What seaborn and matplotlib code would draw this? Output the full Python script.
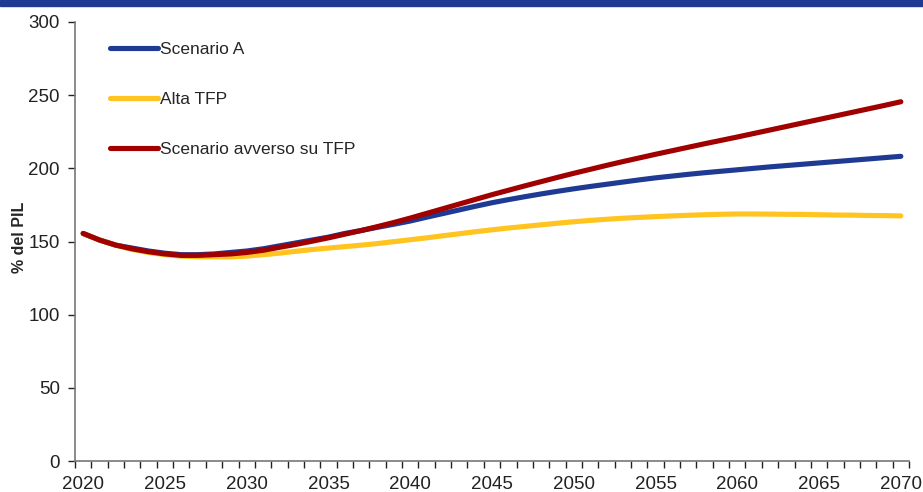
import matplotlib
matplotlib.use("Agg")
import matplotlib.pyplot as plt
import matplotlib.patches as mpatches
from matplotlib.ticker import MultipleLocator
import numpy as np
import pandas as pd
import seaborn as sns

# anni di proiezione
years = list(range(2020, 2071))

scenario_a = [155.5, 151.0, 147.5, 145.5, 143.5, 142.0, 141.0, 141.0, 141.5, 142.5,
              143.5, 145.0, 147.0, 149.0, 151.0, 153.0, 155.5, 157.5, 159.7, 161.8,
              164.0, 166.6, 169.1, 171.6, 174.1, 176.5, 178.6, 180.6, 182.5, 184.3,
              186.0, 187.6, 189.1, 190.6, 192.1, 193.5, 194.7, 195.9, 197.0, 198.0,
              199.0, 200.0, 201.0, 201.9, 202.8, 203.7, 204.6, 205.5, 206.4, 207.3,
              208.2]
alta_tfp = [155.5, 151.0, 147.5, 144.5, 142.5, 141.0, 140.0, 139.5, 139.5, 139.5,
            140.0, 141.0, 142.0, 143.3, 144.5, 145.5, 146.5, 147.5, 148.6, 149.9,
            151.2, 152.5, 153.9, 155.3, 156.7, 158.0, 159.2, 160.3, 161.4, 162.5,
            163.5, 164.4, 165.2, 165.9, 166.5, 167.0, 167.5, 167.9, 168.3, 168.6,
            168.8, 168.8, 168.7, 168.6, 168.5, 168.3, 168.1, 168.0, 167.8, 167.7,
            167.5]
avverso_tfp = [155.5, 151.0, 147.5, 145.0, 143.0, 141.5, 140.5, 140.5, 141.0, 141.5,
               142.5, 144.0, 146.0, 148.0, 150.2, 152.5, 155.0, 157.5, 160.2, 163.0,
               166.0, 169.2, 172.4, 175.6, 178.8, 182.0, 185.0, 188.0, 190.9, 193.8,
               196.6, 199.3, 202.0, 204.6, 207.1, 209.6, 212.0, 214.4, 216.8, 219.1,
               221.4, 223.8, 226.2, 228.6, 231.0, 233.4, 235.8, 238.2, 240.6, 243.0,
               245.5]

series_names = ["Scenario A", "Alta TFP", "Scenario avverso su TFP"]
colors = ["#1F3A93", "#FFC41F", "#A00000"]

df = pd.DataFrame({
    "anno": years * 3,
    "valore": scenario_a + alta_tfp + avverso_tfp,
    "serie": np.repeat(series_names, len(years)),
})

sns.set_style("white")
plt.rcParams["font.family"] = ["Liberation Sans", "DejaVu Sans"]

fig = plt.figure(figsize=(9.23, 4.92), dpi=100)
ax = fig.add_axes([75 / 923, 1 - 461 / 492, 834 / 923, 439 / 492])

sns.lineplot(data=df, x="anno", y="valore", hue="serie", hue_order=series_names,
             palette=colors, linewidth=3.7, ax=ax, legend=True)
for line in ax.get_lines():
    line.set_solid_capstyle("round")

ax.set_xlim(2019.5, 2070.5)
ax.set_ylim(0, 300)
ax.yaxis.set_major_locator(MultipleLocator(50))
ax.set_xticks(list(range(2020, 2071, 5)))
ax.set_xticks(np.arange(2019.5, 2071, 1), minor=True)
ax.tick_params(axis="x", which="major", length=0, labelsize=13.5, pad=11, colors="#222222")
ax.tick_params(axis="x", which="minor", length=5, width=1, direction="out", color="#222222",
               bottom=True)
ax.tick_params(axis="y", which="major", length=5, width=1, direction="out", labelsize=13.5,
               pad=6, left=True, colors="#222222")
ax.set_xlabel("")
ax.set_ylabel("% del PIL", fontsize=11.5, fontweight="bold")
ax.yaxis.set_label_coords(-0.058, 0.51)

for side in ["top", "right"]:
    ax.spines[side].set_visible(False)
for side in ["left", "bottom"]:
    ax.spines[side].set_color("#777777")
    ax.spines[side].set_linewidth(1.2)

leg = ax.legend(loc="upper left", bbox_to_anchor=(0.042, 0.955), frameon=False,
                fontsize=12.5, labelspacing=2.0, handlelength=2.75, handletextpad=0.15,
                borderpad=0, borderaxespad=0)
for h in leg.get_lines():
    h.set_linewidth(3.7)
    h.set_solid_capstyle("round")

# banda blu in alto
fig.patches.append(mpatches.Rectangle((0, 1 - 6 / 492), 1, 6 / 492, transform=fig.transFigure,
                                      color="#1F3A93", zorder=5))

fig.savefig("out.png", dpi=100)
